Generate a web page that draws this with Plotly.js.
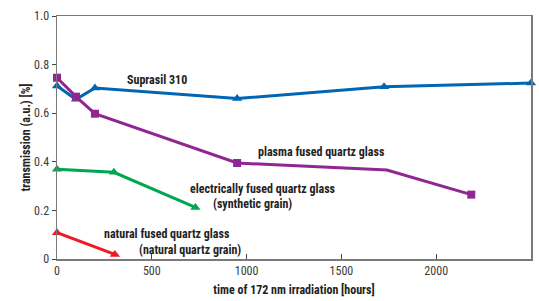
<!DOCTYPE html>
<html>
<head>
<meta charset="utf-8">
<script src="https://cdn.plot.ly/plotly-3.0.1.min.js"></script>
<style>html,body{margin:0;padding:0;background:#fff;}#chart{width:539px;height:301px;}</style>
</head>
<body>
<div id="chart"></div>
<script>
// Data
var suprasilX = [0, 100, 200, 950, 1725, 2500];
var suprasilY = [0.712, 0.657, 0.704, 0.660, 0.709, 0.724];

var plasmaX = [0, 100, 200, 950, 1740, 2185];
var plasmaY = [0.746, 0.668, 0.598, 0.395, 0.366, 0.265];
var plasmaMarkerSizes = [8, 8, 8, 8, 0, 8];

var electricX = [0, 300, 730];
var electricY = [0.369, 0.357, 0.212];

var naturalX = [0, 305];
var naturalY = [0.108, 0.019];

var xTickVals = [0, 500, 1000, 1500, 2000, 2500];
var xTickText = ['0', '500', '1000', '1500', '2000', '2500'];
var yTickVals = [0, 0.2, 0.4, 0.6, 0.8, 1.0];
var yTickText = ['0', '0.2', '0.4', '0.6', '0.8', '1.0'];

var labels = [
  {text: 'Suprasil 310', x: 525, y: 0.737},
  {text: 'plasma fused quartz glass', x: 1395, y: 0.440},
  {text: 'electrically fused quartz glass', x: 1085, y: 0.287},
  {text: '(synthetic grain)', x: 1030, y: 0.225},
  {text: 'natural fused quartz glass', x: 580, y: 0.103},
  {text: '(natural quartz grain)', x: 700, y: 0.036}
];

var FONT = '"Liberation Sans Narrow", "Roboto Condensed", "DejaVu Sans Condensed", sans-serif';
var blue = 'rgb(0,102,179)', purple = 'rgb(143,38,145)', green = 'rgb(0,166,81)', red = 'rgb(237,28,36)';

function mk(sym, size, color) {
  return {symbol: sym, size: size, color: color, opacity: 1, line: {width: 0}};
}

var traces = [
  {x: suprasilX, y: suprasilY, mode: 'lines+markers', cliponaxis: false, line: {color: blue, width: 3},
   marker: mk('triangle-up', 9, blue)},
  {x: plasmaX, y: plasmaY, mode: 'lines+markers', cliponaxis: false, line: {color: purple, width: 3},
   marker: mk('square', plasmaMarkerSizes, purple)},
  {x: electricX, y: electricY, mode: 'lines+markers', cliponaxis: false, line: {color: green, width: 3},
   marker: mk('triangle-up', 9, green)},
  {x: naturalX, y: naturalY, mode: 'lines+markers', cliponaxis: false, line: {color: red, width: 3},
   marker: mk('triangle-up', 9, red)}
];

var annotations = labels.map(function (l) {
  return {x: l.x, y: l.y, xref: 'x', yref: 'y', text: '<b>' + l.text + '</b>', showarrow: false,
    font: {family: FONT, size: 12, color: '#222'}, xanchor: 'center', yanchor: 'middle'};
});

var layout = {
  width: 539, height: 301,
  margin: {l: 57, r: 8, t: 16, b: 42},
  paper_bgcolor: '#fff', plot_bgcolor: '#fff',
  showlegend: false,
  font: {family: FONT, size: 12, color: '#333'},
  xaxis: {
    range: [0, 2500], tickvals: xTickVals, ticktext: xTickText,
    ticks: 'inside', ticklen: 5, tickcolor: '#444', tickwidth: 1,
    showgrid: false, zeroline: false,
    showline: true, linecolor: '#7a7a7a', linewidth: 1.5, mirror: true,
    tickfont: {family: FONT, size: 12, color: '#3a3a3a'},
    title: {text: '<b>time of 172 nm irradiation [hours]</b>', font: {family: FONT, size: 12, color: '#222'}, standoff: 8}
  },
  yaxis: {
    range: [0, 1.0], tickvals: yTickVals, ticktext: yTickText,
    ticks: 'outside', ticklen: 4, tickcolor: '#444', tickwidth: 1,
    showgrid: false, zeroline: false,
    showline: true, linecolor: '#7a7a7a', linewidth: 1.5, mirror: true,
    tickfont: {family: FONT, size: 12, color: '#3a3a3a'},
    title: {text: '<b>transmission (a.u.) [%]</b>', font: {family: FONT, size: 12, color: '#222'}, standoff: 1}
  },
  annotations: annotations
};

Plotly.newPlot('chart', traces, layout, {staticPlot: true, displayModeBar: false});
</script>
</body>
</html>
